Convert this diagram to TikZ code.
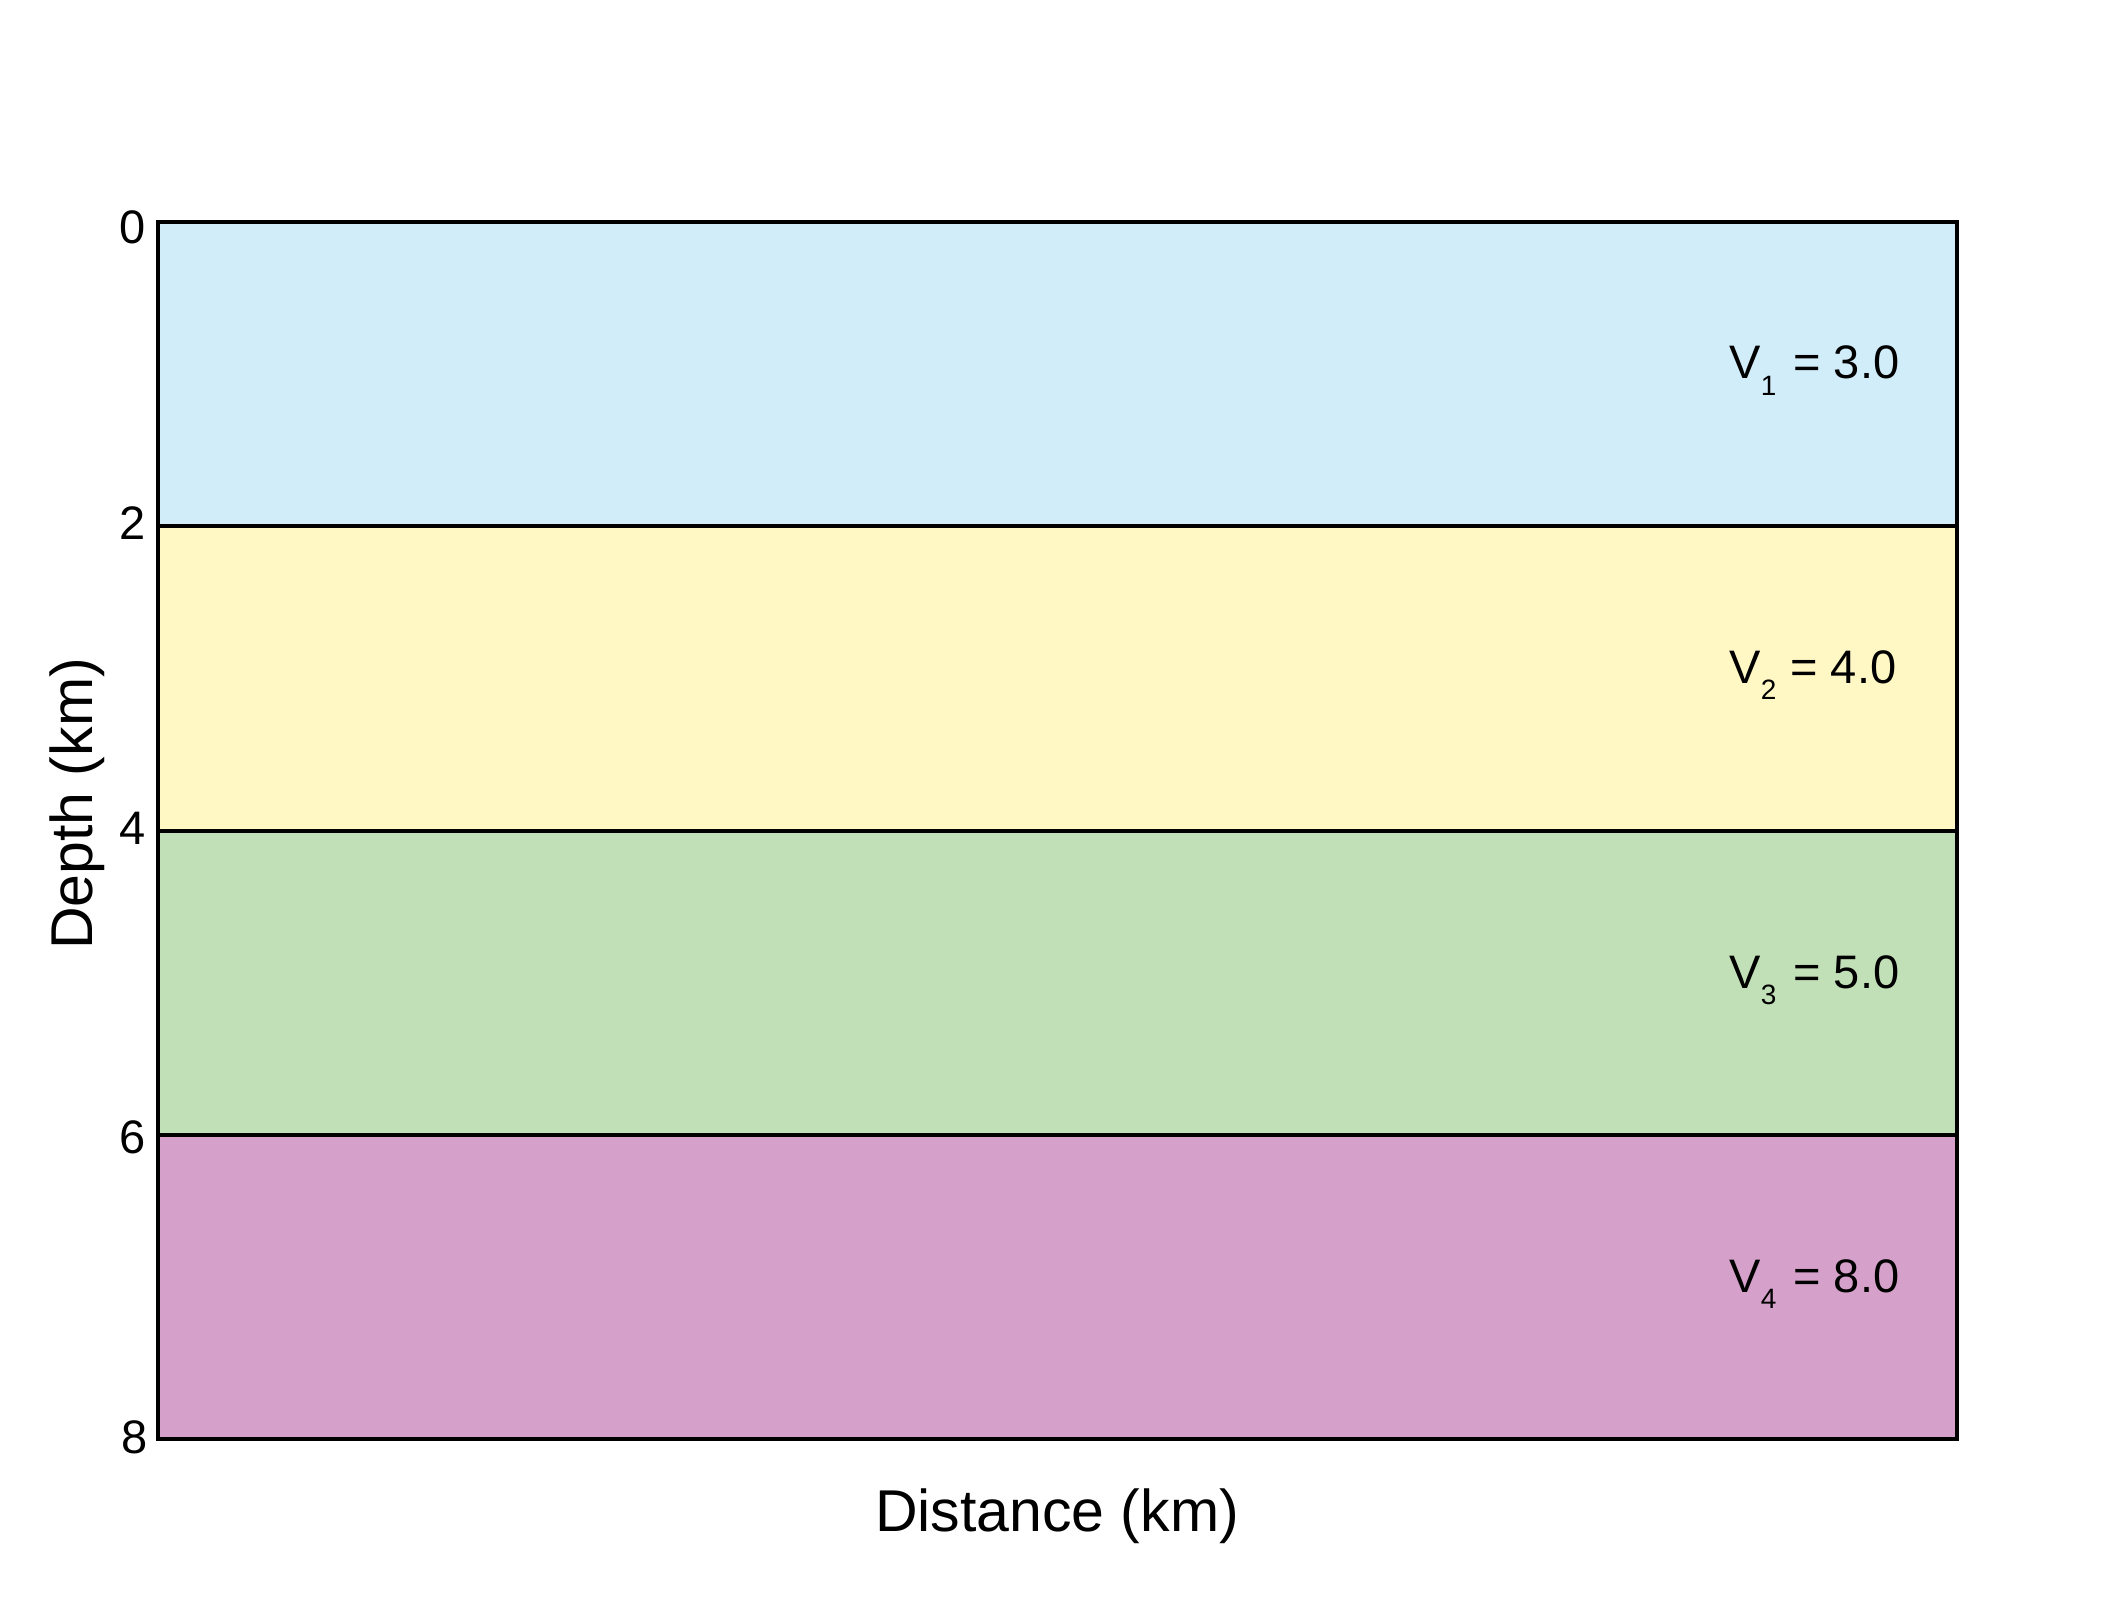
\documentclass[tikz,border=0pt]{standalone}
\usepackage{fontspec}
\setmainfont{Liberation Sans}
\definecolor{layerA}{RGB}{210,237,250}
\definecolor{layerB}{RGB}{255,248,196}
\definecolor{layerC}{RGB}{194,224,183}
\definecolor{layerD}{RGB}{213,160,202}
\newcommand\subsz{\fontsize{14pt}{16pt}\selectfont}
\newcommand\vsub[1]{\raisebox{-8.3pt}{\subsz #1}}
\begin{document}
\begin{tikzpicture}[x=0.5pt,y=-0.5pt,
  edge/.style={draw=black,line width=2pt},
  ticklab/.style={anchor=base east,inner sep=0pt,font=\fontsize{23.5pt}{28pt}\selectfont},
  vlab/.style={anchor=base west,inner sep=0pt,font=\fontsize{23.5pt}{28pt}\selectfont},
  axlab/.style={anchor=base,inner sep=0pt,font=\fontsize{29.5pt}{35pt}\selectfont}]
\useasboundingbox (0,0) rectangle (2107,1604);
% layer boundaries
\coordinate (tl) at (157.5,222);
\coordinate (br) at (1956.5,1439);
\coordinate (b1l) at (157.5,526.25);  \coordinate (b1r) at (1956.5,526.25);
\coordinate (b2l) at (157.5,830.5);   \coordinate (b2r) at (1956.5,830.5);
\coordinate (b3l) at (157.5,1134.75); \coordinate (b3r) at (1956.5,1134.75);
% fills
\fill[layerA] (tl) rectangle (b1r);
\fill[layerB] (b1l) rectangle (b2r);
\fill[layerC] (b2l) rectangle (b3r);
\fill[layerD] (b3l) rectangle (br);
% interfaces
\draw[edge] (b1l) -- (b1r);
\draw[edge] (b2l) -- (b2r);
\draw[edge] (b3l) -- (b3r);
\draw[edge] (tl) rectangle (br);
% tick labels
\node[ticklab] (t0) at (146,244) {0};
\node[ticklab] (t2) at (146,539) {2};
\node[ticklab] (t4) at (146,844) {4};
\node[ticklab] (t6) at (146,1153) {6};
\node[ticklab] (t8) at (148,1453) {8};
% velocity labels
\node[vlab] (v1) at (1729,379) {V\vsub{1}\kern2pt{} = 3.0};
\node[vlab] (v2) at (1729,683) {V\vsub{2}\kern0.5pt{} = 4.0};
\node[vlab] (v3) at (1729,988) {V\vsub{3}\kern2pt{} = 5.0};
\node[vlab] (v4) at (1729,1292) {V\vsub{4}\kern2pt{} = 8.0};
% axis labels
\node[axlab] (xlab) at (1057,1531) {Distance (km)};
\node[axlab,rotate=90] (ylab) at (92,804) {Depth (km)};
\end{tikzpicture}
\end{document}
